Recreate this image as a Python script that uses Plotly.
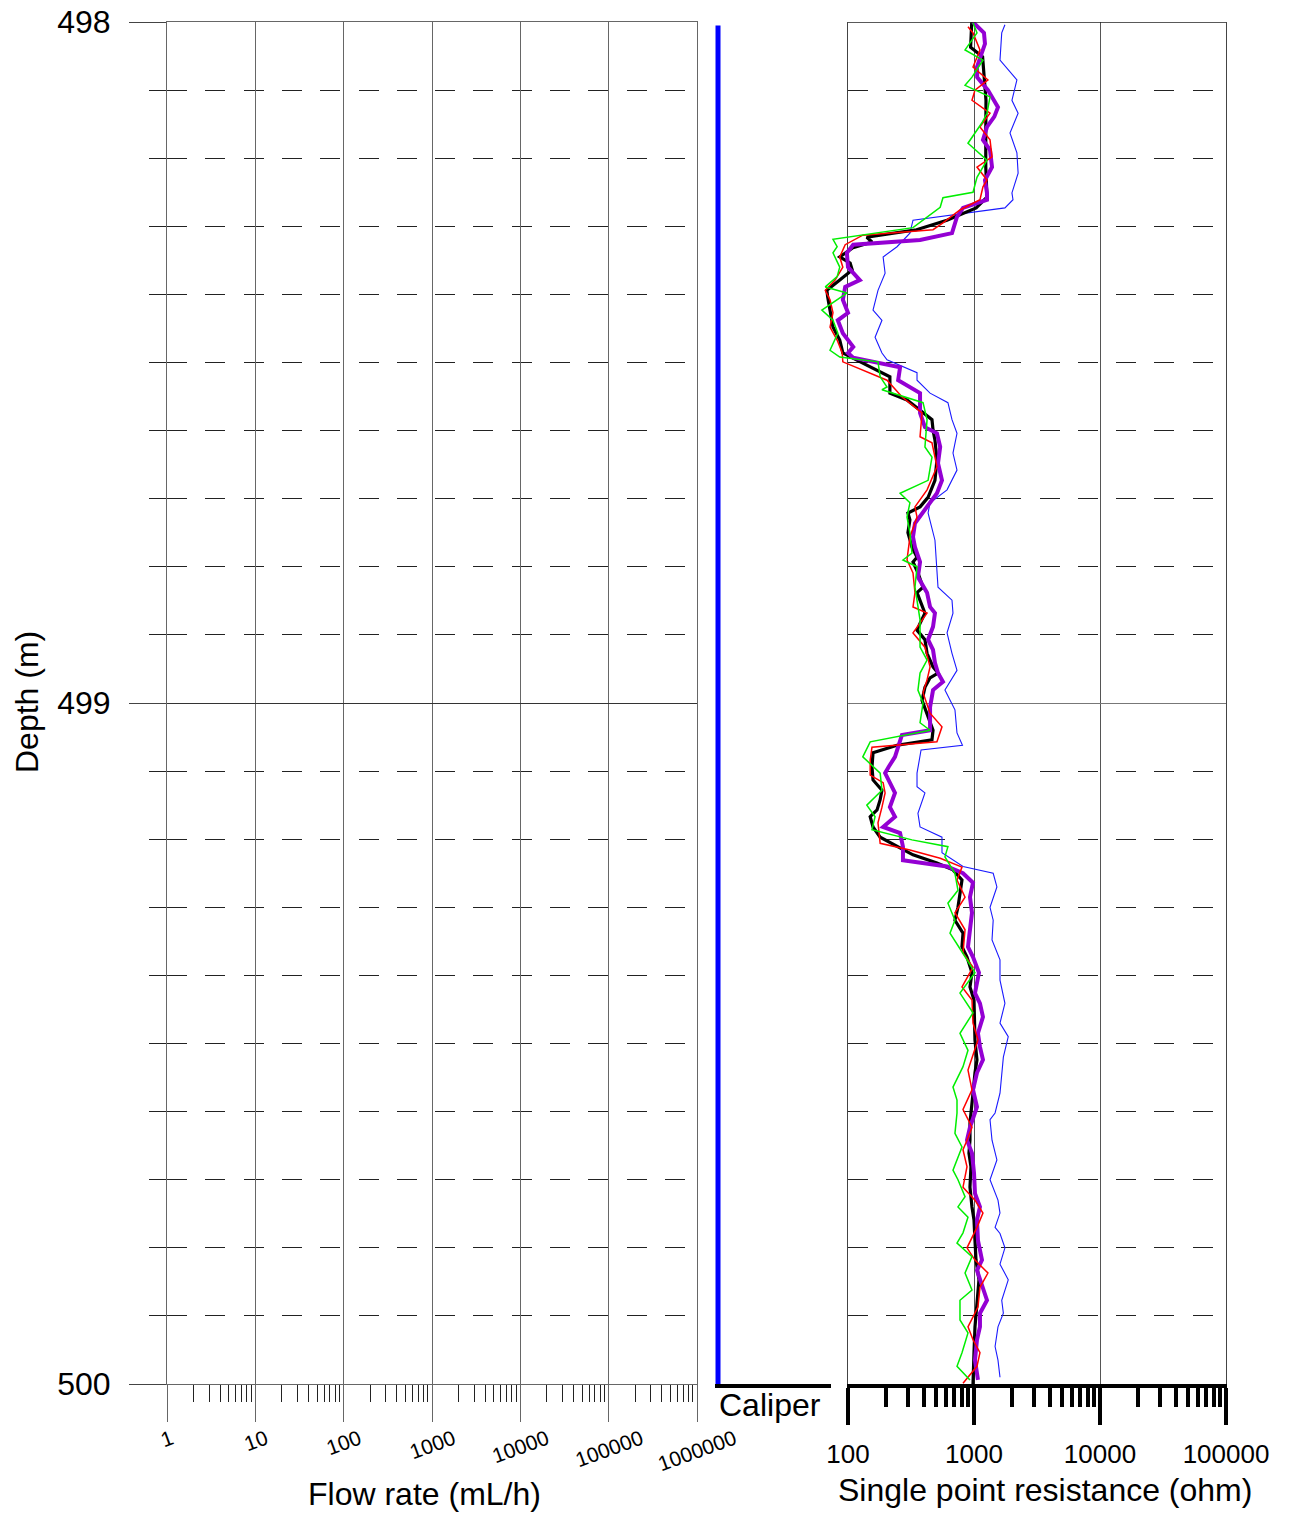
import math
import plotly.graph_objects as go

# ---------------------------------------------------------------------------
# Log data: (depth in m, single point resistance in ohm)
# ---------------------------------------------------------------------------
spr_black = [
    (498.000, 960), (498.037, 940), (498.051, 1170), (498.085, 1200), (498.115, 1245),
    (498.163, 1240), (498.213, 1240), (498.257, 1268), (498.273, 1040), (498.291, 610),
    (498.305, 350), (498.316, 141), (498.323, 155), (498.332, 108), (498.345, 86),
    (498.354, 104), (498.364, 108), (498.379, 86), (498.394, 68), (498.404, 69),
    (498.427, 73), (498.448, 76), (498.467, 86), (498.486, 91), (498.501, 131),
    (498.521, 215), (498.536, 215), (498.545, 215), (498.555, 294), (498.570, 373),
    (498.584, 464), (498.599, 473), (498.614, 490), (498.643, 508), (498.673, 490),
    (498.698, 432), (498.712, 373), (498.721, 299), (498.731, 310), (498.750, 299),
    (498.771, 322), (498.786, 353), (498.793, 328), (498.809, 359), (498.830, 394),
    (498.838, 353), (498.859, 394), (498.868, 408), (498.883, 373), (498.893, 353),
    (498.907, 408), (498.927, 424), (498.947, 473), (498.956, 518), (498.963, 448),
    (498.977, 408), (498.996, 387), (499.015, 424), (499.040, 473), (499.054, 464),
    (499.062, 245), (499.073, 158), (499.094, 155), (499.113, 158), (499.128, 186),
    (499.142, 180), (499.157, 170), (499.167, 150), (499.182, 158), (499.197, 180),
    (499.211, 245), (499.223, 328), (499.235, 508), (499.245, 681), (499.260, 803),
    (499.279, 774), (499.300, 746), (499.319, 706), (499.338, 818), (499.358, 803),
    (499.373, 880), (499.396, 964), (499.417, 929), (499.436, 1000), (499.470, 1018),
    (499.495, 1018), (499.524, 1056), (499.543, 1018), (499.573, 982), (499.593, 964),
    (499.617, 929), (499.642, 929), (499.661, 912), (499.681, 946), (499.711, 929),
    (499.740, 964), (499.759, 1000), (499.789, 1018), (499.818, 1037), (499.847, 1095),
    (499.866, 1075), (499.887, 1056), (499.916, 1018), (499.954, 1000), (500.000, 982),
]

spr_purple = [
    (498.000, 980), (498.016, 1200), (498.032, 1222), (498.066, 1056), (498.081, 1060),
    (498.100, 1290), (498.125, 1550), (498.139, 1450), (498.154, 1268), (498.173, 1178),
    (498.188, 1340), (498.213, 1390), (498.232, 1222), (498.251, 1268), (498.261, 1268),
    (498.266, 1056), (498.273, 818), (498.286, 733), (498.310, 669), (498.320, 373),
    (498.327, 110), (498.339, 98), (498.360, 100), (498.379, 124), (498.389, 95),
    (498.408, 91), (498.427, 100), (498.438, 83), (498.457, 91), (498.477, 110),
    (498.486, 100), (498.493, 110), (498.507, 259), (498.526, 250), (498.545, 373),
    (498.574, 373), (498.595, 408), (498.604, 508), (498.624, 539), (498.648, 518),
    (498.673, 557), (498.692, 508), (498.721, 394), (498.736, 340), (498.756, 328),
    (498.771, 340), (498.793, 373), (498.815, 359), (498.838, 424), (498.859, 448),
    (498.868, 490), (498.888, 473), (498.907, 432), (498.922, 473), (498.941, 490),
    (498.956, 518), (498.969, 567), (498.981, 473), (499.006, 448), (499.040, 448),
    (499.047, 268), (499.065, 250), (499.079, 236), (499.094, 210), (499.103, 197),
    (499.132, 236), (499.153, 215), (499.167, 236), (499.182, 190), (499.191, 259),
    (499.211, 273), (499.231, 273), (499.240, 611), (499.250, 818), (499.264, 982),
    (499.285, 929), (499.308, 964), (499.333, 929), (499.358, 896), (499.373, 982),
    (499.396, 1095), (499.426, 1018), (499.441, 1115), (499.461, 1178), (499.485, 1075),
    (499.505, 1115), (499.524, 1178), (499.543, 1056), (499.568, 982), (499.593, 1056),
    (499.623, 929), (499.642, 880), (499.661, 964), (499.690, 1000), (499.720, 1018),
    (499.740, 1115), (499.759, 1056), (499.789, 1075), (499.818, 1157), (499.833, 1056),
    (499.858, 1178), (499.877, 1268), (499.896, 1115), (499.916, 1115), (499.935, 1056),
    (499.965, 1018), (499.994, 1075),
]

spr_red = [
    (498.007, 896), (498.016, 982), (498.041, 1115), (498.066, 982), (498.085, 1290),
    (498.100, 1018), (498.115, 964), (498.134, 1340), (498.154, 1115), (498.173, 1340),
    (498.198, 1390), (498.213, 1056), (498.232, 1268), (498.242, 1178), (498.261, 1115),
    (498.276, 774), (498.295, 567), (498.305, 473), (498.313, 131), (498.327, 95),
    (498.345, 86), (498.360, 91), (498.379, 79), (498.394, 66), (498.408, 72),
    (498.427, 76), (498.448, 72), (498.467, 82), (498.486, 90), (498.499, 91),
    (498.526, 204), (498.551, 270), (498.574, 387), (498.609, 373), (498.618, 464),
    (498.653, 508), (498.687, 424), (498.712, 340), (498.727, 353), (498.756, 310),
    (498.790, 294), (498.809, 328), (498.838, 340), (498.859, 328), (498.868, 424),
    (498.897, 328), (498.918, 408), (498.947, 448), (498.966, 424), (498.985, 394),
    (499.015, 448), (499.035, 557), (499.057, 508), (499.065, 155), (499.084, 150),
    (499.106, 150), (499.117, 190), (499.132, 197), (499.153, 186), (499.176, 173),
    (499.206, 180), (499.216, 310), (499.228, 539), (499.241, 803), (499.260, 733),
    (499.285, 849), (499.308, 706), (499.333, 849), (499.367, 818), (499.388, 982),
    (499.417, 803), (499.436, 964), (499.470, 982), (499.495, 1075), (499.539, 896),
    (499.568, 964), (499.597, 818), (499.623, 964), (499.642, 880), (499.656, 818),
    (499.681, 880), (499.711, 818), (499.730, 1018), (499.749, 1178), (499.770, 1056),
    (499.800, 880), (499.818, 1018), (499.837, 1290), (499.858, 1115), (499.887, 1075),
    (499.916, 896), (499.935, 982), (499.954, 1115), (499.974, 1056), (499.999, 818),
]

spr_green = [
    (498.001, 982), (498.016, 1056), (498.041, 849), (498.056, 1178), (498.081, 964),
    (498.093, 849), (498.110, 1340), (498.134, 1268), (498.148, 1157), (498.178, 896),
    (498.203, 1268), (498.228, 1056), (498.250, 982), (498.258, 567), (498.272, 539),
    (498.302, 328), (498.319, 76), (498.330, 82), (498.339, 76), (498.360, 86),
    (498.374, 82), (498.389, 66), (498.398, 98), (498.413, 74), (498.423, 62),
    (498.438, 76), (498.457, 83), (498.482, 72), (498.492, 86), (498.499, 173),
    (498.521, 180), (498.536, 204), (498.540, 186), (498.559, 394), (498.584, 424),
    (498.624, 408), (498.639, 464), (498.673, 432), (498.692, 259), (498.706, 310),
    (498.727, 294), (498.750, 310), (498.780, 322), (498.790, 273), (498.800, 353),
    (498.830, 340), (498.859, 359), (498.878, 373), (498.918, 373), (498.937, 424),
    (498.956, 373), (498.981, 359), (499.000, 394), (499.029, 373), (499.040, 448),
    (499.057, 150), (499.079, 131), (499.103, 180), (499.128, 186), (499.150, 141),
    (499.167, 164), (499.186, 155), (499.201, 322), (499.211, 621), (499.226, 588),
    (499.250, 706), (499.275, 746), (499.294, 621), (499.319, 706), (499.338, 645),
    (499.377, 880), (499.396, 1018), (499.426, 774), (499.455, 982), (499.485, 774),
    (499.510, 896), (499.534, 818), (499.564, 681), (499.583, 733), (499.602, 733),
    (499.632, 706), (499.652, 803), (499.686, 681), (499.700, 746), (499.725, 849),
    (499.740, 746), (499.755, 896), (499.778, 818), (499.793, 733), (499.813, 964),
    (499.837, 849), (499.862, 964), (499.877, 774), (499.906, 774), (499.925, 896),
    (499.954, 803), (499.974, 733), (499.994, 929),
]

spr_blue = [
    (498.004, 1760), (498.016, 1660), (498.056, 1608), (498.085, 2190), (498.115, 2000),
    (498.134, 2240), (498.163, 1930), (498.192, 2190), (498.222, 2240), (498.251, 2000),
    (498.261, 2040), (498.273, 1760), (498.291, 328), (498.310, 310), (498.330, 245),
    (498.345, 190), (498.369, 197), (498.394, 173), (498.423, 158), (498.438, 186),
    (498.463, 164), (498.486, 186), (498.496, 204), (498.515, 353), (498.526, 353),
    (498.545, 448), (498.559, 621), (498.584, 669), (498.604, 733), (498.633, 681),
    (498.658, 733), (498.687, 611), (498.706, 448), (498.721, 432), (498.761, 490),
    (498.800, 508), (498.830, 518), (498.849, 669), (498.868, 681), (498.897, 611),
    (498.927, 669), (498.952, 733), (498.981, 588), (499.010, 706), (499.044, 733),
    (499.062, 810), (499.069, 380), (499.103, 353), (499.123, 353), (499.132, 408),
    (499.162, 359), (499.182, 373), (499.197, 557), (499.220, 557), (499.240, 818),
    (499.250, 1420), (499.270, 1520), (499.300, 1340), (499.319, 1420), (499.348, 1390),
    (499.377, 1608), (499.407, 1608), (499.441, 1760), (499.470, 1608), (499.490, 1870),
    (499.520, 1710), (499.543, 1660), (499.573, 1608), (499.602, 1470), (499.612, 1340),
    (499.642, 1390), (499.671, 1520), (499.700, 1340), (499.730, 1550), (499.749, 1608),
    (499.770, 1470), (499.779, 1608), (499.800, 1760), (499.824, 1608), (499.847, 1870),
    (499.877, 1660), (499.896, 1710), (499.916, 1550), (499.945, 1470), (499.965, 1550),
    (499.990, 1608),
]

# Caliper log (mm) over the logged interval
caliper_depth = [498.005, 500.0]
caliper_mm = [75.0, 75.0]

# Flow-rate log: no measurable flow in this interval
flow_depth = []
flow_rate = []

depth_ticks = [498, 499, 500]
flow_ticks = [1, 10, 100, 1000, 10000, 100000, 1000000]
spr_ticks = [100, 1000, 10000, 100000]

# ---------------------------------------------------------------------------
# Page geometry (pixels -> paper fractions)
# ---------------------------------------------------------------------------
W, H = 1289, 1513
FONT = "Liberation Sans, Arial, Helvetica, sans-serif"


def fx(px):
    return px / W


def fy(py):
    return 1 - py / H


y_dom = [fy(1384), fy(22)]
depth_range = [500, 498]
depth_minor = [498 + i / 10 for i in range(1, 20) if i != 10]
dash_pattern = "20px,18.3px"

fig = go.Figure()

# Flow-rate panel (empty)
fig.add_trace(go.Scatter(x=flow_rate, y=flow_depth, mode="lines",
                         xaxis="x", yaxis="y", showlegend=False))

# Caliper
fig.add_trace(go.Scatter(x=caliper_mm, y=caliper_depth, mode="lines",
                         line=dict(color="#0000FF", width=5),
                         xaxis="x4", yaxis="y4", showlegend=False))

# Single point resistance curves
series = [
    (spr_blue, "#1a1aff", 1.1),
    (spr_black, "#000000", 3.2),
    (spr_purple, "#9400D3", 4.0),
    (spr_red, "#FF0000", 1.5),
    (spr_green, "#00EE00", 1.5),
]
for data, color, width in series:
    d, r = zip(*data)
    fig.add_trace(go.Scatter(x=list(r), y=list(d), mode="lines",
                             line=dict(color=color, width=width),
                             xaxis="x3", yaxis="y2", showlegend=False))

flow_minor = [k * 10 ** e for e in range(0, 6) for k in range(2, 10)]
spr_minor = [k * 10 ** e for e in range(2, 5) for k in range(2, 10)]

fig.update_layout(
    width=W, height=H,
    margin=dict(l=0, r=0, t=0, b=0, autoexpand=False),
    paper_bgcolor="white",
    plot_bgcolor="rgba(0,0,0,0)",
    font=dict(family=FONT, color="black"),
    showlegend=False,
    # flow-rate panel
    xaxis=dict(
        type="log", range=[0, 6], domain=[fx(167), fx(697)], anchor="y",
        automargin=False,
        tickvals=flow_ticks, showticklabels=False,
        ticks="outside", ticklen=37, tickcolor="#666", tickwidth=1,
        showgrid=True, gridcolor="#666", gridwidth=1,
        showline=True, mirror=True, linecolor="#666", linewidth=1,
        zeroline=False,
        minor=dict(tickvals=flow_minor, ticks="outside", ticklen=17,
                   tickcolor="#222", tickwidth=1, showgrid=False),
    ),
    yaxis=dict(
        range=depth_range, domain=y_dom, anchor="x", automargin=False,
        tickvals=depth_ticks, ticktext=[str(t) for t in depth_ticks],
        tickfont=dict(size=32), ticklabelstandoff=12,
        ticks="outside", ticklen=37, tickcolor="#444", tickwidth=1,
        showgrid=True, gridcolor="#333", gridwidth=1,
        showline=True, mirror=True, linecolor="#666", linewidth=1,
        zeroline=False,
        minor=dict(tickvals=depth_minor, ticks="outside", ticklen=17,
                   tickcolor="#222", tickwidth=1, showgrid=True,
                   gridcolor="#222", gridwidth=1, griddash=dash_pattern),
    ),
    # resistance panel frame and scale
    xaxis2=dict(
        type="log", range=[2, 5], domain=[fx(848), fx(1226)], anchor="y3",
        automargin=False,
        tickvals=spr_ticks, ticktext=[str(t) for t in spr_ticks],
        tickfont=dict(size=26), ticklabelstandoff=7,
        ticks="outside", ticklen=37, tickcolor="black", tickwidth=4,
        showgrid=True, gridcolor="#555", gridwidth=1.2,
        showline=True, linecolor="black", linewidth=4,
        zeroline=False,
        minor=dict(tickvals=spr_minor, ticks="outside", ticklen=19,
                   tickcolor="black", tickwidth=4, showgrid=False),
    ),
    yaxis3=dict(
        range=depth_range, domain=y_dom, anchor="x2", automargin=False,
        tickvals=depth_ticks, showticklabels=False, ticks="",
        showgrid=True, gridcolor="#777", gridwidth=1.3,
        showline=True, mirror=True, linecolor="#444", linewidth=1.3,
        zeroline=False,
        minor=dict(tickvals=depth_minor, ticks="", showgrid=True,
                   gridcolor="#222", gridwidth=1, griddash=dash_pattern),
    ),
    # resistance curves (wider so low readings stay visible)
    xaxis3=dict(
        type="log", range=[2 - 33 / 126, 5], domain=[fx(815), fx(1226)],
        anchor="y2", visible=False, automargin=False,
    ),
    yaxis2=dict(range=depth_range, domain=y_dom, anchor="x3", visible=False,
                automargin=False),
    # caliper
    xaxis4=dict(
        range=[74.6, 90], domain=[fx(715), fx(831)], anchor="y4",
        automargin=False,
        showticklabels=False, ticks="", showgrid=False, zeroline=False,
        showline=True, linecolor="black", linewidth=4,
    ),
    yaxis4=dict(range=depth_range, domain=y_dom, anchor="x4", visible=False,
                automargin=False),
)

shapes = [
    # top border of the resistance panel
    dict(type="line", xref="x2 domain", yref="y3", x0=0, x1=1, y0=498, y1=498,
         line=dict(color="#222", width=1.3)),
]
fig.update_layout(shapes=shapes)

annotations = []
# rotated flow-rate tick labels
for t in flow_ticks:
    label = str(t)
    annotations.append(dict(
        x=math.log10(t), xref="x", y=fy(1436 + 2 * len(label)), yref="paper",
        text=label, showarrow=False, textangle=-20,
        xanchor="center", yanchor="middle", font=dict(size=21),
    ))
annotations += [
    dict(x=fx(424), y=fy(1494), xref="paper", yref="paper",
         text="Flow rate (mL/h)", showarrow=False, font=dict(size=32),
         xanchor="center", yanchor="middle"),
    dict(x=fx(1045), y=fy(1490), xref="paper", yref="paper",
         text="Single point resistance (ohm)", showarrow=False, font=dict(size=32),
         xanchor="center", yanchor="middle"),
    dict(x=fx(770), y=fy(1405), xref="paper", yref="paper",
         text="Caliper", showarrow=False, font=dict(size=32),
         xanchor="center", yanchor="middle"),
    dict(x=fx(27), y=fy(702), xref="paper", yref="paper",
         text="Depth (m)", showarrow=False, font=dict(size=32), textangle=-90,
         xanchor="center", yanchor="middle"),
]
fig.update_layout(annotations=annotations)

fig.write_html("out.html")
